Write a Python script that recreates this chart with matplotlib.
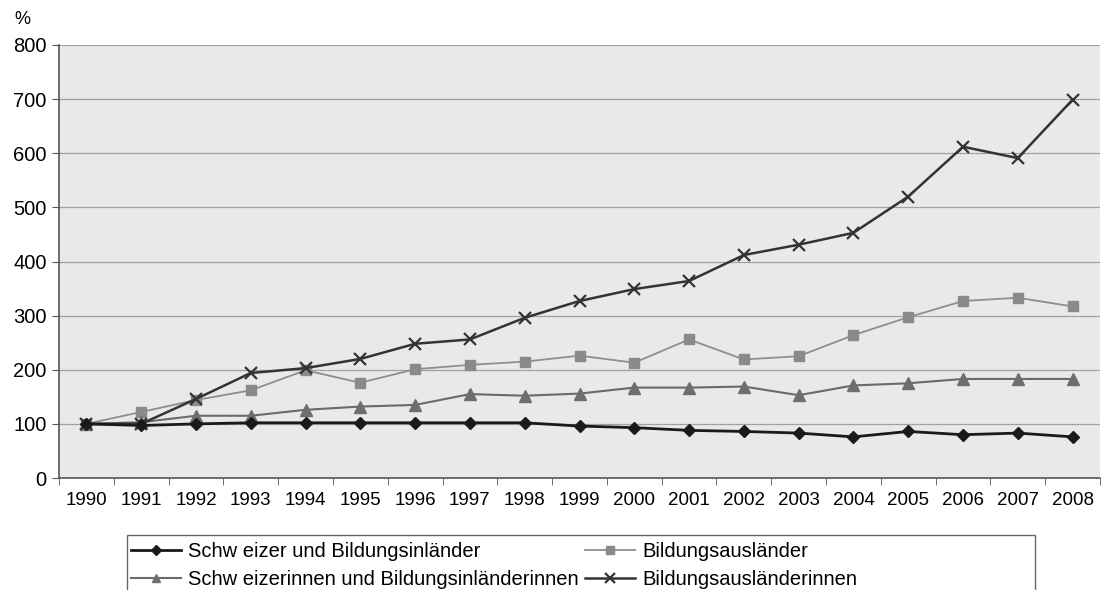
import matplotlib
matplotlib.use("Agg")
import matplotlib.pyplot as plt
from matplotlib.patches import Rectangle

plt.rcParams['font.family'] = ['Liberation Sans', 'DejaVu Sans']

years = [str(y) for y in range(1990, 2009)]
schweizer = [100, 97, 100, 102, 102, 102, 102, 102, 102, 96, 93, 88, 86, 83, 76, 86, 80, 83, 76]
bildungsauslaender = [100, 122, 144, 162, 199, 176, 201, 209, 215, 226, 213, 256, 219, 225, 264, 297, 327, 333, 317]
schweizerinnen = [100, 103, 115, 115, 126, 132, 135, 155, 152, 156, 167, 167, 169, 153, 171, 175, 183, 183, 183]
bildungsauslaenderinnen = [100, 100, 146, 194, 203, 220, 248, 256, 296, 327, 349, 364, 412, 431, 453, 520, 612, 591, 699]

labels = ["Schw eizer und Bildungsinländer", "Bildungsausländer",
          "Schw eizerinnen und Bildungsinländerinnen", "Bildungsausländerinnen"]

W, H = 1102, 590
fig = plt.figure(figsize=(W / 100, H / 100), dpi=100)
ax = fig.add_axes([59/W, 112/H, 1041/W, 433/H])
ax.set_facecolor('#e9e9e9')

x = list(range(len(years)))
h1, = ax.plot(x, schweizer, color='#1a1a1a', lw=2.0, marker='D', ms=6.5, mfc='#1a1a1a', mec='#1a1a1a', zorder=5)
h2, = ax.plot(x, bildungsauslaender, color='#8e8e8e', lw=1.3, marker='s', ms=7, mfc='#8a8a8a', mec='#8a8a8a', zorder=3)
h3, = ax.plot(x, schweizerinnen, color='#6a6a6a', lw=1.5, marker='^', ms=8.5, mfc='#6e6e6e', mec='#6e6e6e', zorder=4)
h4, = ax.plot(x, bildungsauslaenderinnen, color='#333333', lw=1.8, marker='x', ms=9, mew=1.6, mec='#333333', zorder=4)

ax.set_xlim(-0.5, len(years) - 0.5)
ax.set_ylim(0, 800)
ax.set_yticks(range(0, 801, 100))
ax.set_xticks(x)
ax.set_xticklabels(years)
ax.set_xticks([i + 0.5 for i in range(-1, len(years))], minor=True)
ax.tick_params(axis='x', which='major', length=0, pad=10, labelsize=13.5)
ax.tick_params(axis='x', which='minor', length=5, color='#555555')
ax.tick_params(axis='y', length=5, color='#555555', labelsize=14.5, pad=4)
ax.yaxis.grid(True, color='#777777', lw=0.9, linestyle=(0, (1, 0.6)))
ax.set_axisbelow(True)
for s in ['top', 'right']:
    ax.spines[s].set_visible(False)
ax.spines['left'].set_color('#555555')
ax.spines['bottom'].set_color('#555555')
ax.spines['left'].set_linewidth(1.2)
ax.spines['bottom'].set_linewidth(1.2)

fig.text(14/W, 1 - 20/H, '%', fontsize=13, va='center', ha='left')

# legend frame (box spans wider than the content, open at the bottom edge)
fig.patches.append(Rectangle((127/W, -0.02), (1035 - 127)/W, 0.02 + (H - 535)/H,
                             transform=fig.transFigure, fill=False,
                             edgecolor='#666666', lw=1.0))

leg = fig.legend([h1, h3, h2, h4], [labels[0], labels[2], labels[1], labels[3]],
                 ncol=2, loc='upper left',
                 bbox_to_anchor=(131/W, 1 - 542/H),
                 fontsize=14.5, frameon=False, handlelength=2.5, handletextpad=0.35,
                 borderpad=0, labelspacing=0.45, columnspacing=0.3, borderaxespad=0,
                 markerscale=0.75)

fig.savefig('out.png', dpi=100)
